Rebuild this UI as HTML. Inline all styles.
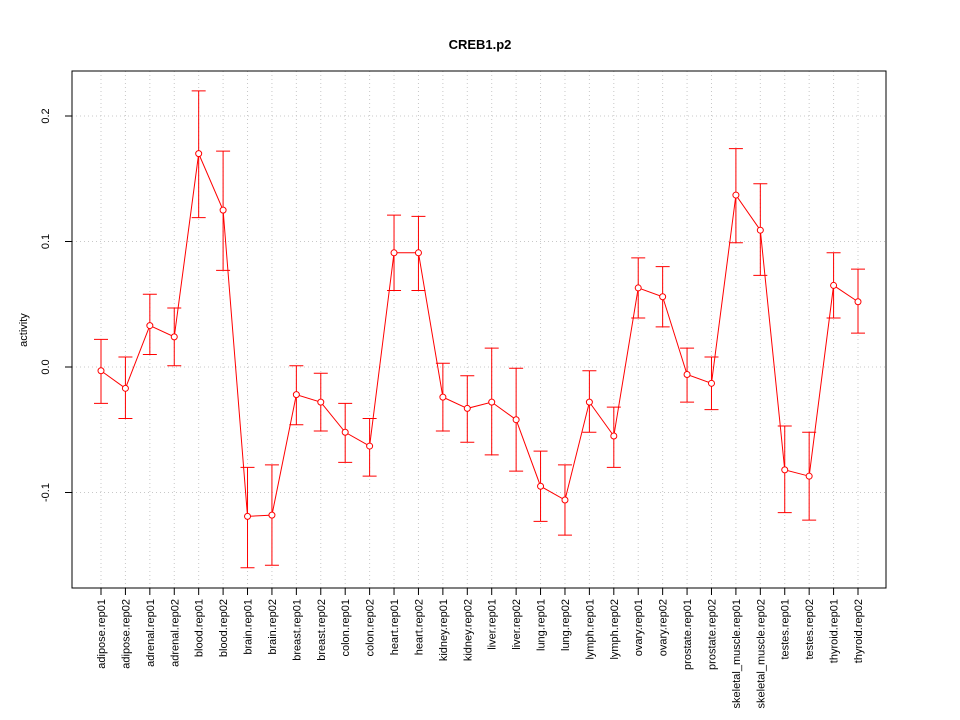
<!DOCTYPE html>
<html><head><meta charset="utf-8"><style>
body{margin:0;background:#fff;}
svg{display:block;font-family:"Liberation Sans",Arial,sans-serif;}
</style></head><body>
<svg id="chart" width="960" height="720" viewBox="0 0 960 720" xmlns="http://www.w3.org/2000/svg">
<text x="480" y="49" text-anchor="middle" font-size="13" font-weight="bold">CREB1.p2</text>
<text transform="translate(27,330) rotate(-90)" text-anchor="middle" font-size="11">activity</text>
<g id="grid"></g>
<g id="yaxis"></g>
<g id="xaxis"></g>
<g id="series"></g>
<rect x="72" y="71" width="814" height="517" fill="none" stroke="#000"/>
</svg>
<script>
const categories=["adipose.rep01","adipose.rep02","adrenal.rep01","adrenal.rep02","blood.rep01","blood.rep02","brain.rep01","brain.rep02","breast.rep01","breast.rep02","colon.rep01","colon.rep02","heart.rep01","heart.rep02","kidney.rep01","kidney.rep02","liver.rep01","liver.rep02","lung.rep01","lung.rep02","lymph.rep01","lymph.rep02","ovary.rep01","ovary.rep02","prostate.rep01","prostate.rep02","skeletal_muscle.rep01","skeletal_muscle.rep02","testes.rep01","testes.rep02","thyroid.rep01","thyroid.rep02"];
const values=[-0.003,-0.017,0.033,0.024,0.170,0.125,-0.119,-0.118,-0.022,-0.028,-0.052,-0.063,0.091,0.091,-0.024,-0.033,-0.028,-0.042,-0.095,-0.106,-0.028,-0.055,0.063,0.056,-0.006,-0.013,0.137,0.109,-0.082,-0.087,0.065,0.052];
const upper=[0.022,0.008,0.058,0.047,0.220,0.172,-0.080,-0.078,0.001,-0.005,-0.029,-0.041,0.121,0.120,0.003,-0.007,0.015,-0.001,-0.067,-0.078,-0.003,-0.032,0.087,0.080,0.015,0.008,0.174,0.146,-0.047,-0.052,0.091,0.078];
const lower=[-0.029,-0.041,0.010,0.001,0.119,0.077,-0.160,-0.158,-0.046,-0.051,-0.076,-0.087,0.061,0.061,-0.051,-0.060,-0.070,-0.083,-0.123,-0.134,-0.052,-0.080,0.039,0.032,-0.028,-0.034,0.099,0.073,-0.116,-0.122,0.039,0.027];
const yTicks=[-0.1,0.0,0.1,0.2];
const yTickLabels=["-0.1","0.0","0.1","0.2"];

const NS="http://www.w3.org/2000/svg";
const xs=i=>101+i*(858-101)/(categories.length-1);
const ys=v=>367-v*1255;
function mk(p,tag,at){const e=document.createElementNS(NS,tag);for(const k in at)e.setAttribute(k,at[k]);p.appendChild(e);return e;}
const grid=document.getElementById('grid'),ya=document.getElementById('yaxis'),xa=document.getElementById('xaxis'),se=document.getElementById('series');
yTicks.forEach((t,i)=>{
  const g=mk(grid,'line',{x1:72,x2:886,y1:ys(t),y2:ys(t),stroke:'#c8c8c8','stroke-dasharray':'1,3'});
  
  
  const tk=mk(ya,'line',{x1:65,x2:72,y1:ys(t),y2:ys(t),stroke:'#000'});
  
  
  const tx=mk(ya,'text',{transform:`translate(49,${ys(t)}) rotate(-90)`,'text-anchor':'middle','font-size':11});
  tx.textContent=yTickLabels[i];
  
  
});
categories.forEach((c,i)=>{
  const x=xs(i);
  const g=mk(grid,'line',{x1:x,x2:x,y1:71,y2:588,stroke:'#c8c8c8','stroke-dasharray':'1,3'});
  
  
  const tk=mk(xa,'line',{x1:x,x2:x,y1:588,y2:595,stroke:'#000'});
  
  
  const tx=mk(xa,'text',{transform:`translate(${x+4},599) rotate(-90)`,'text-anchor':'end','font-size':11});
  tx.textContent=c;
  
  
});
const pl=mk(se,'polyline',{points:values.map((v,i)=>xs(i)+','+ys(v)).join(' '),fill:'none',stroke:'#ff0000'});


values.forEach((v,i)=>{
  const x=xs(i);
  const eb=mk(se,'path',{d:`M${x},${ys(upper[i])}V${ys(lower[i])}M${x-7},${ys(upper[i])}H${x+7}M${x-7},${ys(lower[i])}H${x+7}`,stroke:'#ff0000',fill:'none'});
  
  
  const pt=mk(se,'circle',{cx:x,cy:ys(v),r:3,fill:'#fff',stroke:'#ff0000'});
  
  
});
</script>
</body></html>
